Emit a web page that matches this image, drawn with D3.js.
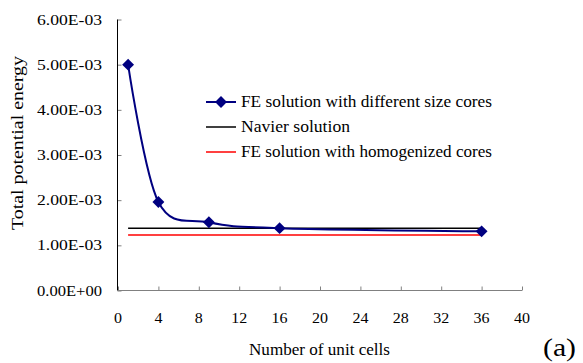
<!DOCTYPE html>
<html>
<head>
<meta charset="utf-8">
<script src="https://cdn.jsdelivr.net/npm/d3@7"></script>
<style>
  body { margin: 0; background: #fff; }
</style>
</head>
<body>
<svg id="chart" width="583" height="363"></svg>
<script>
// data
let unitCells = [1, 4, 9, 16, 36];
let feDifferentCores = [5.0e-3, 1.96e-3, 1.51e-3, 1.38e-3, 1.31e-3];
let navierSolution = [1.38e-3, 1.38e-3];
let feHomogenized = [1.23e-3, 1.23e-3];
let flatRange = [1, 36];
let yTicks = [0, 1e-3, 2e-3, 3e-3, 4e-3, 5e-3, 6e-3];
let xTicks = [0, 4, 8, 12, 16, 20, 24, 28, 32, 36, 40];
let legendLabels = ['FE solution with different size cores', 'Navier solution', 'FE solution with homogenized cores'];

let svg = d3.select('#chart');

// scales
let xScale = d3.scaleLinear().domain([0, 40]).range([118, 522]);
let yScale = d3.scaleLinear().domain([0, 6e-3]).range([290.5, 19.5]);

let fmt = v => v.toExponential(2).toUpperCase().replace(/E([+-])(\d)$/, 'E$10$2');

// the installed serif runs narrower than the original, so widths are pinned
function fitText(sel, width) {
    return sel.attr('textLength', width).attr('lengthAdjust', 'spacingAndGlyphs');
}

// y axis: black line, grey inward ticks
let yAxis = svg.append('g').attr('transform', 'translate(117.5,0)')
    .call(d3.axisRight(yScale).tickValues(yTicks).tickSize(4).tickFormat(''));
yAxis.select('.domain').remove();
yAxis.selectAll('.tick line').attr('stroke', '#808080');
svg.append('line')
    .attr('x1', 117.5).attr('x2', 117.5)
    .attr('y1', yScale(6e-3)).attr('y2', yScale(0))
    .attr('stroke', '#000');
let yLabelWidth = 65;
svg.append('g').selectAll('text')
    .data(yTicks).enter().append('text')
    .attr('x', 102 - yLabelWidth).attr('y', d => yScale(d) + 5)
    .style('font-size', '15px')
    .text(fmt)
    .call(fitText, yLabelWidth);

// x axis: grey line, upward ticks
let xAxis = svg.append('g').attr('transform', 'translate(0,290.5)')
    .call(d3.axisTop(xScale).tickValues(xTicks).tickSize(4).tickSizeOuter(4).tickFormat(''));
xAxis.select('.domain').attr('stroke', '#808080').attr('d', `M${xScale(0)},0H${xScale(40)}`);
xAxis.selectAll('.tick line').attr('stroke', '#808080');
svg.append('g').selectAll('text')
    .data(xTicks).enter().append('text')
    .attr('x', d => xScale(d) - String(d).length * 4).attr('y', 323)
    .style('font-size', '15px')
    .text(d => d)
    .each(function(d) { fitText(d3.select(this), String(d).length * 8); });

// axis titles
svg.append('text')
    .attr('x', 319.5 - 70.5).attr('y', 355)
    .style('font-size', '16px')
    .text('Number of unit cells')
    .call(fitText, 141);
svg.append('text')
    .attr('transform', 'translate(23,230) rotate(-90)')
    .style('font-size', '16px')
    .text('Total potential energy')
    .call(fitText, 174);
svg.append('text')
    .attr('x', 543).attr('y', 356)
    .style('font-size', '25px')
    .text('(a)')
    .call(fitText, 33);

// flat reference lines
let flatLine = d3.line().x((d, i) => xScale(flatRange[i])).y(d => yScale(d));
svg.append('path').datum(navierSolution)
    .attr('d', flatLine).attr('fill', 'none').attr('stroke', '#000').attr('stroke-width', 1.5);
svg.append('path').datum(feHomogenized)
    .attr('d', flatLine).attr('fill', 'none').attr('stroke', '#ff0000').attr('stroke-width', 1.5);

// smoothed FE curve with diamond markers
let dataset = unitCells.map((c, i) => ({cells: c, energy: feDifferentCores[i]}));
let smooth = d3.line()
    .x(d => xScale(d.cells))
    .y(d => yScale(d.energy))
    .curve(d3.curveCardinal.tension(0));
svg.append('path').datum(dataset)
    .attr('d', smooth).attr('fill', 'none').attr('stroke', '#000080').attr('stroke-width', 2);

let diamond = d3.symbol().type(d3.symbolDiamond2).size(90);
svg.selectAll('.dot')
    .data(dataset).enter().append('path')
    .attr('class', 'dot')
    .attr('transform', d => `translate(${xScale(d.cells)},${yScale(d.energy)})`)
    .attr('d', diamond)
    .attr('fill', '#000080');

// legend
let legendY = [102, 127, 152];
let legendWidths = [251, 109, 251];
let legendColors = ['#000080', '#000', '#ff0000'];
let legend = svg.append('g');
legendLabels.forEach((label, i) => {
    legend.append('line')
        .attr('x1', 206).attr('x2', 236)
        .attr('y1', legendY[i]).attr('y2', legendY[i])
        .attr('stroke', legendColors[i]).attr('stroke-width', i === 0 ? 2 : 1.5);
    if (i === 0) {
        legend.append('path')
            .attr('transform', `translate(221,${legendY[i]})`)
            .attr('d', diamond).attr('fill', '#000080');
    }
    legend.append('text')
        .attr('x', 241).attr('y', legendY[i] + 5)
        .style('font-size', '16px')
        .text(label)
        .call(fitText, legendWidths[i]);
});
</script>
</body>
</html>
